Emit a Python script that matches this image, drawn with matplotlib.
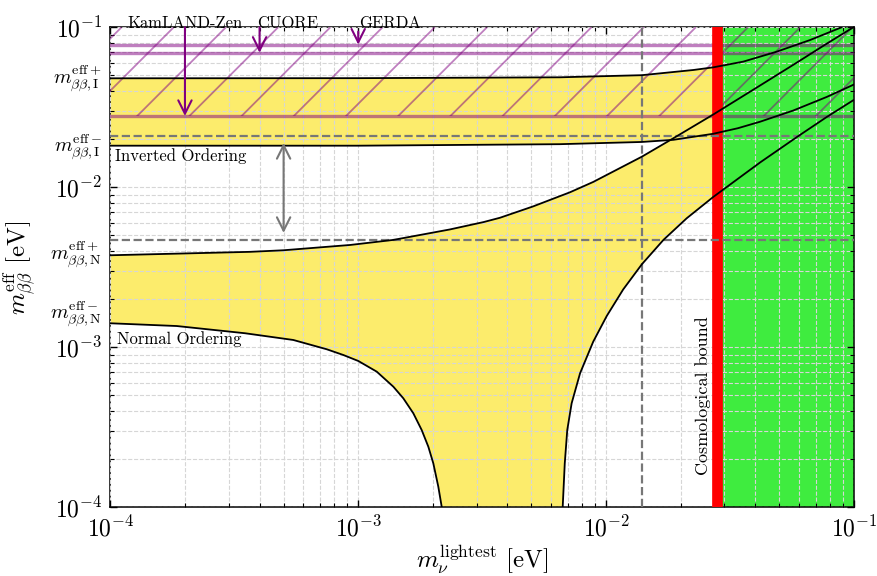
import numpy as np
import matplotlib
matplotlib.use("Agg")
import matplotlib.pyplot as plt
from matplotlib.collections import LineCollection
from matplotlib.ticker import LogLocator, NullFormatter
import matplotlib.transforms as mtransforms

plt.rcParams['font.family'] = 'serif'
plt.rcParams['font.serif'] = ['cmr10']
plt.rcParams['mathtext.fontset'] = 'cm'
plt.rcParams['axes.formatter.use_mathtext'] = True

# normal ordering, upper edge
no_up_x = [1e-4, 2e-4, 3.66e-4, 4.99e-4, 9.27e-4, 1.386e-3, 2.34e-3, 3.2e-3, 3.73e-3, 5.08e-3,
           7.15e-3, 8.87e-3, 1.393e-2, 1.866e-2, 2.704e-2, 4.18e-2, 5.69e-2, 7.76e-2, 9.93e-2]
no_up_y = [3.76e-3, 3.86e-3, 3.95e-3, 4.04e-3, 4.36e-3, 4.69e-3, 5.45e-3, 6.06e-3, 6.45e-3, 7.6e-3,
           9.31e-3, 1.08e-2, 1.553e-2, 2.024e-2, 2.85e-2, 4.33e-2, 5.83e-2, 7.9e-2, 0.1]
# normal ordering, lower edge (before and after the cancellation)
no_lo_left_x = [1e-4, 1.853e-4, 3.494e-4, 5.472e-4, 7.464e-4, 8.708e-4, 1.001e-3, 1.188e-3,
                1.386e-3, 1.52e-3, 1.668e-3, 1.803e-3, 1.918e-3, 2.009e-3, 2.104e-3, 2.173e-3]
no_lo_left_y = [1.413e-3, 1.358e-3, 1.224e-3, 1.111e-3, 9.72e-4, 8.95e-4, 8.21e-4, 7.04e-4,
                5.67e-4, 4.80e-4, 3.87e-4, 3.04e-4, 2.39e-4, 1.88e-4, 1.345e-4, 1.0e-4]
no_lo_right_x = [6.68e-3, 6.81e-3, 6.97e-3, 7.26e-3, 7.85e-3, 8.87e-3, 1.006e-2, 1.172e-2,
                 1.393e-2, 1.703e-2, 2.113e-2, 2.704e-2, 4.18e-2, 5.96e-2, 7.76e-2, 9.93e-2]
no_lo_right_y = [1.0e-4, 1.88e-4, 3.04e-4, 4.47e-4, 6.88e-4, 1.084e-3, 1.57e-3, 2.3e-3,
                 3.3e-3, 4.69e-3, 6.4e-3, 8.7e-3, 1.43e-2, 2.09e-2, 2.75e-2, 3.5e-2]
# inverted ordering
io_up_x = [1e-4, 1e-3, 3.73e-3, 6.52e-3, 1.393e-2, 2.249e-2, 2.704e-2, 3.573e-2, 4.875e-2,
           6.653e-2, 8.91e-2]
io_up_y = [0.0480, 0.0481, 0.0485, 0.0487, 0.0502, 0.0541, 0.0562, 0.0610, 0.0704, 0.0833, 0.1]
io_lo_x = [1e-4, 1e-3, 6.52e-3, 1.393e-2, 1.866e-2, 2.704e-2, 3.4e-2, 4.18e-2, 5.69e-2,
           7.76e-2, 9.93e-2]
io_lo_y = [0.0182, 0.0182, 0.0186, 0.0192, 0.0198, 0.0216, 0.0234, 0.0257, 0.0302, 0.0367, 0.0437]

# experimental limits
exp_names = ['KamLAND-Zen', 'CUORE', 'GERDA']
exp_limits = [0.0279, 0.0693, 0.0779]
exp_arrow_x = [2e-4, 4e-4, 1e-3]
exp_arrow_top = [0.1, 0.1, 0.094]
exp_label_x = [2e-4, 5.19e-4, 1.343e-3]

sens_io = 0.0209
sens_no = 0.00469
sens_x = 0.014
cosmo_bound = 0.0281

band_labels = [r'$m_{\beta\beta,\mathrm{I}}^{\mathrm{eff}+}$', r'$m_{\beta\beta,\mathrm{I}}^{\mathrm{eff}-}$',
               r'$m_{\beta\beta,\mathrm{N}}^{\mathrm{eff}+}$', r'$m_{\beta\beta,\mathrm{N}}^{\mathrm{eff}-}$']
band_label_y = [0.0475, 0.0178, 0.00376, 0.00162]

yellow = '#fcec6c'
green = '#3fec3f'

fig = plt.figure(figsize=(8.77, 5.76), dpi=100)
ax = fig.add_axes([0.1258, 0.1193, 0.8480, 0.8333])
ax.set_xscale('log')
ax.set_yscale('log')
ax.set_xlim(1e-4, 1e-1)
ax.set_ylim(1e-4, 1e-1)

# yellow bands
io_poly_x = io_up_x + io_lo_x[::-1]
io_poly_y = io_up_y + io_lo_y[::-1]
ax.fill(io_poly_x, io_poly_y, color=yellow, lw=0, zorder=1)
no_poly_x = no_up_x + no_lo_right_x[::-1] + no_lo_left_x[::-1]
no_poly_y = no_up_y + no_lo_right_y[::-1] + no_lo_left_y[::-1]
ax.fill(no_poly_x, no_poly_y, color=yellow, lw=0, zorder=1)

# excluded by cosmology
ax.axvspan(cosmo_bound, 1e-1, color=green, lw=0, zorder=1.5)
ax.axvline(cosmo_bound, color='red', lw=7.7, zorder=2.9)

# curves
for xs, ys in [(no_up_x, no_up_y), (no_lo_left_x, no_lo_left_y), (no_lo_right_x, no_lo_right_y),
               (io_up_x, io_up_y), (io_lo_x, io_lo_y)]:
    ax.plot(xs, ys, color='black', lw=1.3, zorder=4)

# experimental limits, hatched region
span = ax.axhspan(exp_limits[0], 1, facecolor='none', edgecolor='none')
ratio = ax.bbox.height / ax.bbox.width
step = 0.0702
segs = [[(x0, 0), (x0 + ratio, 1)] for x0 in np.arange(-0.490 - 3 * step, 1.05, step)]
lc = LineCollection(segs, transform=ax.transAxes, colors='purple', alpha=0.5, lw=1.3, zorder=2.6)
ax.add_collection(lc, autolim=False)
lc.set_clip_path(span.get_path(), span.get_transform())
for lim in exp_limits:
    ax.axhline(lim, color='purple', alpha=0.5, lw=2.4, zorder=2.7)

trans_top = mtransforms.blended_transform_factory(ax.transData, ax.transAxes)
for name, lim, xa, top, xl in zip(exp_names, exp_limits, exp_arrow_x, exp_arrow_top, exp_label_x):
    ax.annotate('', xy=(xa, lim), xytext=(xa, top),
                arrowprops=dict(arrowstyle='->', color='purple', lw=1.5, mutation_scale=24,
                                shrinkA=0, shrinkB=0), zorder=5)
    ax.text(xl, 1.008, name, transform=trans_top, ha='center', va='center', fontsize=12)

# sensitivity lines
ax.axhline(sens_io, color='#777777', ls='--', lw=1.6, zorder=3.5)
ax.axhline(sens_no, color='#777777', ls='--', lw=1.6, zorder=3.5)
ax.axvline(sens_x, color='#777777', ls='--', lw=1.6, zorder=3.5)
ax.annotate('', xy=(5e-4, sens_no), xytext=(5e-4, sens_io),
            arrowprops=dict(arrowstyle='<->', color='#777777', lw=1.5, mutation_scale=24,
                            shrinkA=5, shrinkB=5), zorder=5)

# texts
trans_left = mtransforms.blended_transform_factory(ax.transAxes, ax.transData)
for lab, val in zip(band_labels, band_label_y):
    ax.text(-0.0116, val, lab, transform=trans_left, ha='right', va='center', fontsize=14.5)
ax.text(0.0065, 0.0157, 'Inverted Ordering', transform=trans_left, ha='left', va='center', fontsize=12)
ax.text(0.0085, 1.12e-3, 'Normal Ordering', transform=trans_left, ha='left', va='center', fontsize=12)
ax.text(0.0246, 1.6e-4, 'Cosmological bound', rotation=90, ha='center', va='bottom', fontsize=13, zorder=5)

ax.set_xlabel(r'$m_{\nu}^{\mathrm{lightest}}$ [eV]', fontsize=18)
ax.set_ylabel(r'$m_{\beta\beta}^{\mathrm{eff}}$ [eV]', fontsize=18)
ax.xaxis.set_label_coords(0.5, -0.075)
ax.yaxis.set_label_coords(-0.099, 0.5)

ax.xaxis.set_major_locator(LogLocator(base=10, numticks=10))
ax.yaxis.set_major_locator(LogLocator(base=10, numticks=10))
ax.xaxis.set_minor_locator(LogLocator(base=10, subs=np.arange(2, 10), numticks=20))
ax.yaxis.set_minor_locator(LogLocator(base=10, subs=np.arange(2, 10), numticks=20))
ax.xaxis.set_minor_formatter(NullFormatter())
ax.yaxis.set_minor_formatter(NullFormatter())
ax.tick_params(which='both', direction='in', top=True, right=True, labelsize=17, pad=6)
ax.tick_params(which='major', length=5, width=1)
ax.tick_params(which='minor', length=3, width=0.8)
for sp in ax.spines.values():
    sp.set_linewidth(1.1)

ax.set_axisbelow(False)
ax.grid(True, which='both', ls='--', color='#d6d6d6', lw=0.8, zorder=2.5)

fig.savefig('out.png', dpi=100)
